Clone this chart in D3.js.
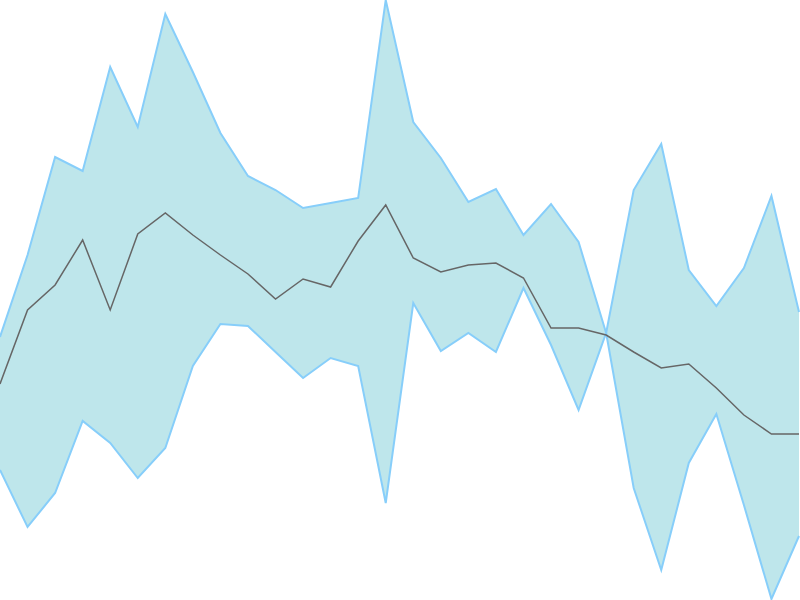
<!DOCTYPE html>
<html>
<head>
<meta charset="utf-8">
<script src="https://cdn.jsdelivr.net/npm/d3@7"></script>
<style>
  body { margin: 0; background: #fff; }
  svg { display: block; }
</style>
</head>
<body>
<div id="chart"></div>
<script>
var width = 800;
var height = 600;

// x index of each sample (0..29)
var steps = d3.range(30);

// upper edge of the band
var upper = [263, 345, 443, 429, 533, 473, 586, 528, 467, 424,
             410, 392, 397, 402, 600, 478, 442, 398, 411, 365,
             396, 358, 267, 410, 456, 330, 294, 332, 404, 288];

// lower edge of the band
var lower = [130, 73, 107, 179, 157, 122, 152, 234, 276, 274,
             248, 222, 242, 234, 97, 297, 249, 267, 248, 312,
             255, 190, 267, 112, 30, 137, 186, 95, 1, 64];

// middle line
var middle = [216, 290, 315, 360, 290, 366, 387, 365, 345, 326,
              301, 321, 313, 359, 395, 342, 328, 335, 337, 322,
              272, 272, 265, 248, 232, 236, 212, 185, 166, 166];

var x = d3.scaleLinear().domain([0, 29]).range([0, 799]);
var y = d3.scaleLinear().domain([0, 600]).range([height, 0]);

var svg = d3.select("#chart")
	.append("svg")
	.attr("width", width)
	.attr("height", height);

var band = d3.area()
	.x(function(d, i) { return x(steps[i]); })
	.y0(function(d, i) { return y(lower[i]); })
	.y1(function(d, i) { return y(upper[i]); });

svg.append("path")
	.datum(steps)
	.attr("d", band)
	.style("fill", "#b0e0e6")
	.style("fill-opacity", 0.82)
	.style("stroke", "none");

// band edges drawn separately so the stroke doesn't close the shape
var edge = function(vals) {
	return d3.line()
		.x(function(d, i) { return x(steps[i]); })
		.y(function(d) { return y(d); })(vals);
};

[upper, lower].forEach(function(vals) {
	svg.append("path")
		.attr("d", edge(vals))
		.style("fill", "none")
		.style("stroke", "#87cefa")
		.style("stroke-width", 2);
});

svg.append("path")
	.attr("d", edge(middle))
	.style("fill", "none")
	.style("stroke", "#666")
	.style("stroke-width", 1.5);
</script>
</body>
</html>
